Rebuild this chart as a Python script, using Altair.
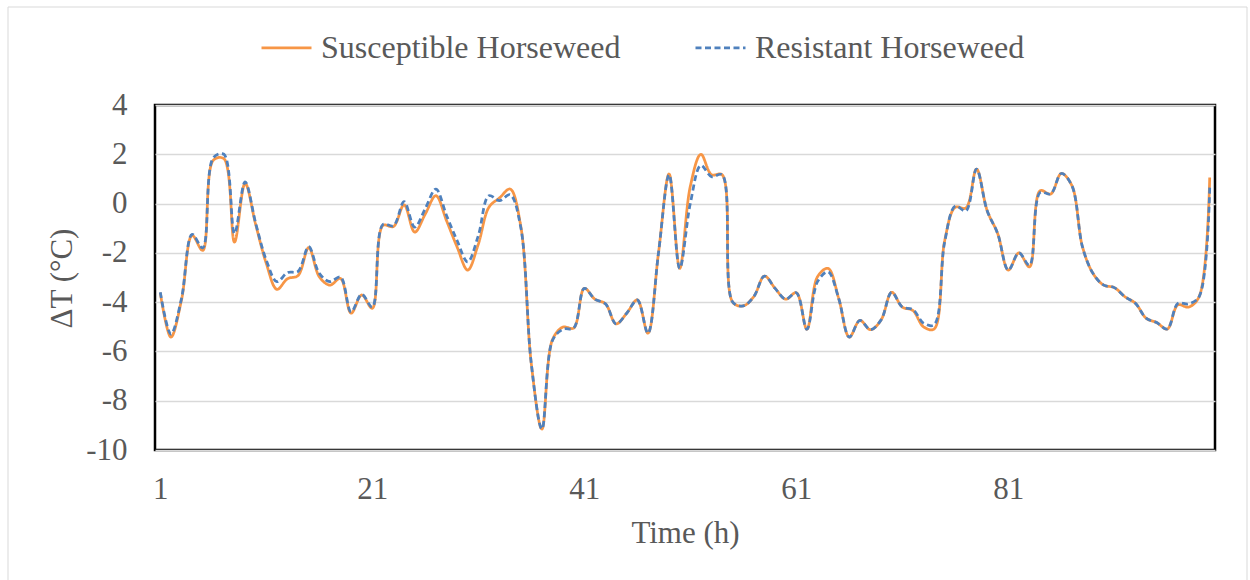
import altair as alt
import pandas as pd

# Hourly canopy temperature difference (ΔT, °C) for two horseweed biotypes
hours = list(range(1, 101))

susceptible = [
    -3.62, -5.42, -3.91, -1.29, -1.90, 1.76, 1.82, -1.56, 0.82, -0.85,
    -2.43, -3.48, -3.05, -2.92, -1.79, -2.97, -3.31, -3.04, -4.45, -3.71,
    -4.25, -0.89, -0.93, -0.05, -1.16, -0.42, 0.32, -0.69, -1.76, -2.70,
    -1.65, -0.15, 0.23, 0.59, -0.90, -6.50, -9.15, -5.52, -5.01, -5.05,
    -3.44, -3.88, -4.07, -4.88, -4.45, -3.91, -5.26, -2.00, 1.20, -2.63,
    0.70, 2.00, 1.17, 1.17, -4.00, -4.15, -3.77, -2.94, -3.44, -3.88,
    -3.62, -5.10, -2.97, -2.63, -3.85, -5.42, -4.74, -5.12, -4.72, -3.60,
    -4.20, -4.34, -5.00, -5.09, -1.50, -0.15, -0.18, 1.40, -0.28, -1.22,
    -2.70, -2.00, -2.57, 0.52, 0.39, 1.22, 0.73, -1.76, -2.84, -3.31,
    -3.41, -3.78, -4.05, -4.65, -4.83, -5.09, -4.11, -4.20, -3.78, 1.06,
]

resistant = [
    -3.60, -5.30, -3.85, -1.25, -1.80, 1.86, 2.00, -1.22, 0.88, -0.80,
    -2.30, -3.17, -2.80, -2.75, -1.75, -2.83, -3.17, -2.98, -4.40, -3.68,
    -4.20, -0.85, -0.90, 0.08, -0.96, -0.20, 0.59, -0.48, -1.50, -2.37,
    -1.30, 0.32, 0.12, 0.36, -0.95, -6.50, -9.15, -5.55, -5.10, -5.05,
    -3.44, -3.88, -4.07, -4.88, -4.45, -3.91, -5.26, -2.00, 1.17, -2.63,
    0.00, 1.55, 1.09, 1.17, -4.00, -4.15, -3.77, -2.94, -3.44, -3.88,
    -3.62, -5.10, -3.17, -2.77, -3.85, -5.42, -4.74, -5.12, -4.72, -3.60,
    -4.20, -4.30, -4.85, -4.92, -1.55, -0.10, -0.30, 1.40, -0.28, -1.22,
    -2.70, -2.00, -2.50, 0.45, 0.39, 1.22, 0.73, -1.76, -2.84, -3.31,
    -3.41, -3.78, -4.05, -4.65, -4.83, -5.09, -4.05, -4.07, -3.78, 0.66,
]

series_names = ["Susceptible Horseweed", "Resistant Horseweed"]
series_colors = ["#F79646", "#4F81BD"]
series_dashes = [[1, 0], [6, 3.5]]
x_ticks = [1, 21, 41, 61, 81]
y_ticks = [-10, -8, -6, -4, -2, 0, 2, 4]

df = pd.concat([
    pd.DataFrame({"hour": hours, "dT": susceptible, "series": series_names[0]}),
    pd.DataFrame({"hour": hours, "dT": resistant, "series": series_names[1]}),
])

FONT = "Liberation Serif"
TXT = "#595959"

x_enc = alt.X(
    "hour:Q",
    scale=alt.Scale(domain=[0.5, 100.5], nice=False, zero=False),
    axis=alt.Axis(
        values=x_ticks, title="Time (h)", grid=False, domain=False,
        ticks=False, tickSize=0, labelPadding=24, labelFontSize=31,
        titleFontSize=31, titleX=530, titleY=83, titleBaseline="middle",
        titleFontWeight="normal",
    ),
)
y_enc = alt.Y(
    "dT:Q",
    scale=alt.Scale(domain=[-10, 4], nice=False),
    axis=alt.Axis(
        values=y_ticks, title="ΔT (°C)", grid=True, gridColor="#D9D9D9",
        gridWidth=1.5, domain=False, ticks=False, tickSize=0,
        labelPadding=28, labelFontSize=31, titleFontSize=31,
        labelExpr="'' + datum.value",
        titleX=-93, titleY=173, titleBaseline="middle", titleAngle=270,
        titleAlign="center", titleFontWeight="normal",
    ),
)

legend = alt.Legend(
    title=None, orient="none", direction="horizontal", legendX=105,
    legendY=-84, symbolType="stroke", symbolSize=2500, symbolStrokeWidth=2.75,
    labelFontSize=32, labelOffset=8, columnPadding=69, padding=0,
    labelLimit=1000, labelColor=TXT, labelFont=FONT,
)
color_enc = alt.Color(
    "series:N", scale=alt.Scale(domain=series_names, range=series_colors),
    legend=legend,
)
dash_enc = alt.StrokeDash(
    "series:N", scale=alt.Scale(domain=series_names, range=series_dashes),
    legend=legend,
)

base = alt.Chart(df).mark_line(interpolate="catmull-rom", strokeWidth=2.75)

susceptible_line = base.transform_filter(
    alt.datum.series == series_names[0]
).encode(x=x_enc, y=y_enc, color=color_enc, strokeDash=dash_enc)

resistant_line = base.transform_filter(
    alt.datum.series == series_names[1]
).encode(x=x_enc, y=y_enc, color=color_enc, strokeDash=dash_enc)

# light outer border around the whole figure
frame = alt.Chart(alt.Data(values=[{}])).mark_rect(
    fill=None, stroke="#D9D9D9", strokeWidth=1
).encode(
    x=alt.value(-147), x2=alt.value(1092),
    y=alt.value(-98), y2=alt.value(480),
)

chart = alt.layer(frame, susceptible_line, resistant_line).properties(
    width=1060, height=345,
    autosize=alt.AutoSizeParams(type="none"),
    padding={"left": 155, "top": 105, "right": 35, "bottom": 130},
    background="white",
).configure_view(
    stroke="black", strokeWidth=2.5,
).configure_axis(
    labelFont=FONT, titleFont=FONT, labelColor=TXT, titleColor=TXT,
).configure_legend(
    labelFont=FONT,
)

chart.save("out.html", embed_options={"renderer": "svg", "actions": False})
